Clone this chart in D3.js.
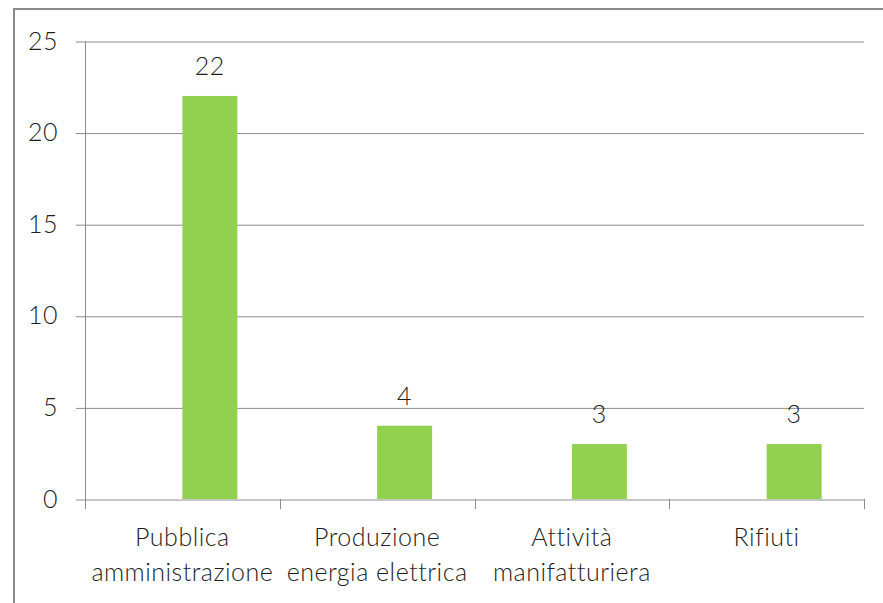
<!DOCTYPE html>
<html>
<head>
<meta charset="utf-8">
<script src="https://cdn.jsdelivr.net/npm/d3@7"></script>
<style>
  html, body { margin: 0; padding: 0; background: #fff; }
  svg { display: block; }
  text { font-family: Lato, "Open Sans", sans-serif; font-weight: 300; fill: #1e1e1e; letter-spacing: 0.5px; }
</style>
</head>
<body>
<svg id="chart" width="883" height="603"></svg>
<script>
// Settori e numero di casi
const categories = [
  ["Pubblica", "amministrazione"],
  ["Produzione", "energia elettrica"],
  ["Attività", "manifatturiera"],
  ["Rifiuti"]
];
const values = [22, 4, 3, 3];
const yTicks = [0, 5, 10, 15, 20, 25];

const W = 883, H = 603;
const plot = { left: 85, right: 864, top: 41, bottom: 499 };
const fontSize = 25;
const gridColor = "#8c8c8c";
const barColor = "#92d050";

const svg = d3.select("#chart");

// outer chart frame
svg.append("rect")
  .attr("x", 14).attr("y", 9)
  .attr("width", W).attr("height", H)
  .attr("fill", "#fff")
  .attr("stroke", "#8a8a8a").attr("stroke-width", 2);

const keys = categories.map((c, i) => i);
const x = d3.scaleBand().domain(keys).range([plot.left, plot.right]).padding(0);
const y = d3.scaleLinear().domain([0, 25]).range([plot.bottom, plot.top]);

// horizontal gridlines with short left tick extension
const yAxis = d3.axisLeft(y).tickValues(yTicks)
  .tickSize(-(plot.right - plot.left) - 9)
  .tickPadding(18)
  .tickFormat(d3.format("d"));
const gy = svg.append("g").attr("transform", `translate(${plot.left - 9},0)`).call(yAxis);
gy.select(".domain").remove();
gy.selectAll(".tick line")
  .attr("stroke", gridColor).attr("stroke-width", 1)
  .attr("transform", "translate(0,0.5)");
gy.selectAll(".tick text")
  .attr("x", 58 - (plot.left - 9))
  .style("font-family", "Lato, 'Open Sans', sans-serif")
  .style("font-size", fontSize + "px")
  .attr("fill", "#1e1e1e");

// vertical value axis line
svg.append("line")
  .attr("x1", plot.left + 0.5).attr("x2", plot.left + 0.5)
  .attr("y1", plot.top).attr("y2", plot.bottom + 10)
  .attr("stroke", gridColor);

// category axis: ticks at band boundaries
const boundaries = keys.map(k => x(k)).concat([plot.right]);
svg.append("g").selectAll("line").data(boundaries).join("line")
  .attr("x1", d => Math.round(d) + 0.5).attr("x2", d => Math.round(d) + 0.5)
  .attr("y1", plot.bottom).attr("y2", plot.bottom + 10)
  .attr("stroke", gridColor);

// bars: drawn in the right half of each category slot
const barW = 55;
svg.append("g").selectAll("rect").data(values).join("rect")
  .attr("x", (d, i) => x(i) + x.bandwidth() / 2)
  .attr("y", d => y(d))
  .attr("width", barW)
  .attr("height", d => y(0) - y(d))
  .attr("fill", barColor);

// value labels
svg.append("g").selectAll("text").data(values).join("text")
  .attr("x", (d, i) => x(i) + x.bandwidth() / 2 + barW / 2)
  .attr("y", d => y(d) - 21)
  .attr("text-anchor", "middle")
  .style("font-size", fontSize + "px")
  .text(d => d);

// category labels
const lab = svg.append("g").selectAll("text").data(categories).join("text")
  .attr("text-anchor", "middle")
  .style("font-size", fontSize + "px");
lab.each(function (lines, i) {
  const t = d3.select(this);
  lines.forEach((s, j) => {
    t.append("tspan")
      .attr("x", x(i) + x.bandwidth() / 2)
      .attr("y", 546 + j * 35)
      .text(s);
  });
});
</script>
</body>
</html>
